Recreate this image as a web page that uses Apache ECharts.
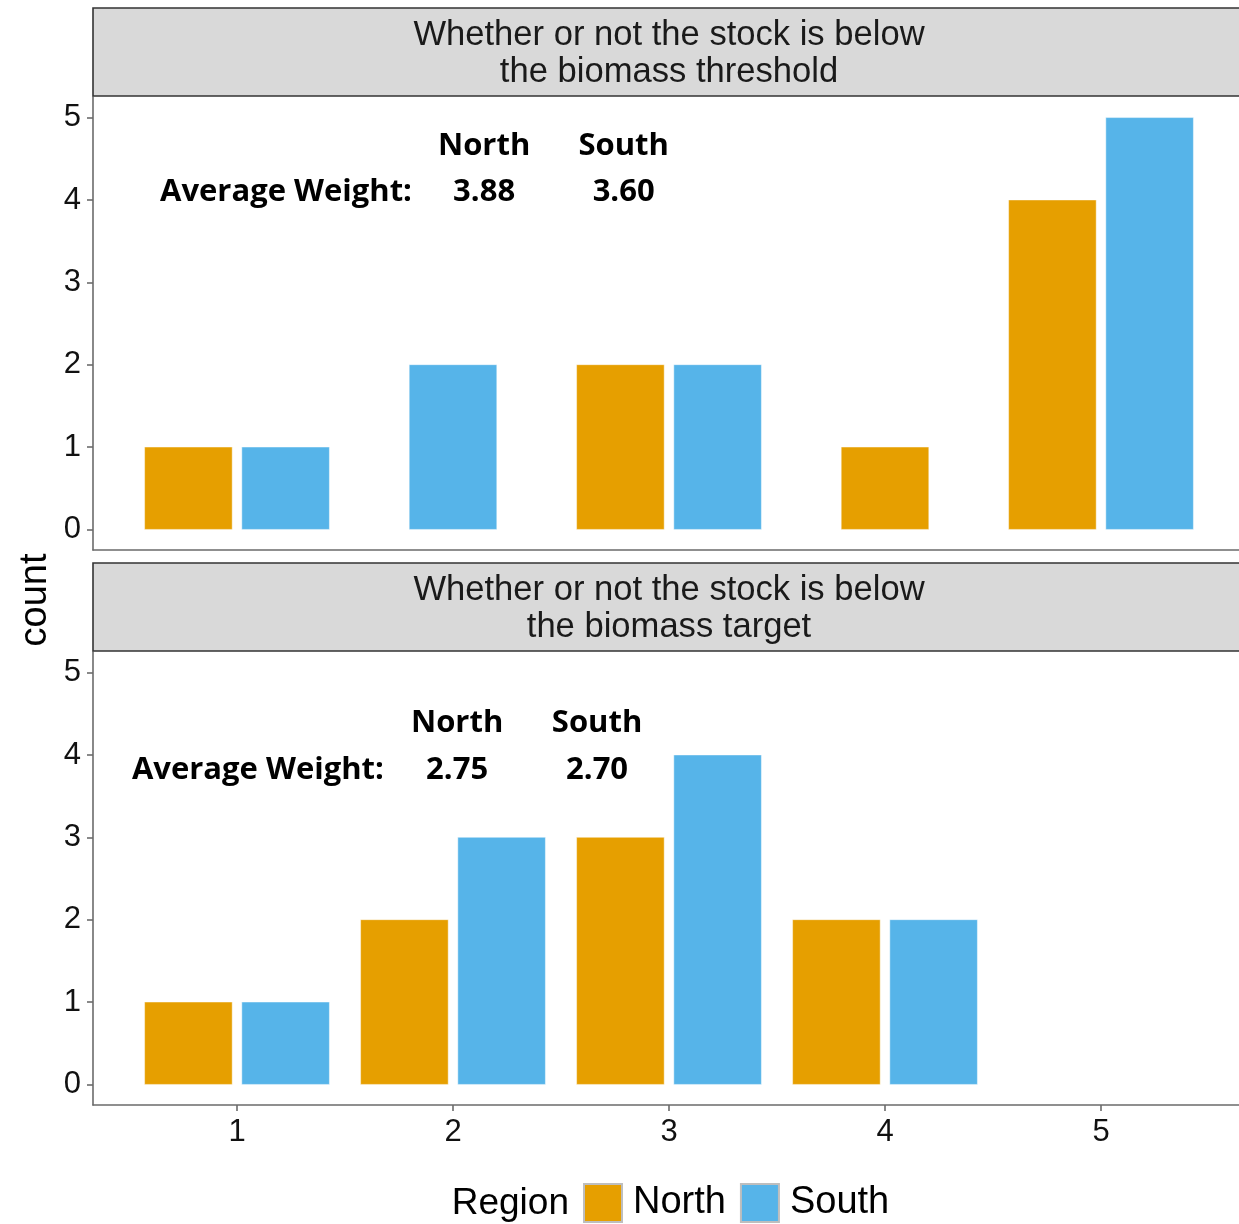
<!DOCTYPE html>
<html>
<head>
<meta charset="utf-8">
<script src="https://cdn.jsdelivr.net/npm/echarts@6/dist/echarts.min.js"></script>
<style>
html,body{margin:0;padding:0;background:#fff;overflow:hidden;}
#chart{width:1246px;height:1224px;}
</style>
</head>
<body>
<div id="chart"></div>
<script>
// ---- data ----
const xValues = [1, 2, 3, 4, 5];
const thresholdNorth = [1, 0, 2, 1, 4];
const thresholdSouth = [1, 2, 2, 0, 5];
const targetNorth = [1, 2, 3, 2, 0];
const targetSouth = [1, 3, 4, 2, 0];
const panelTitles = [
  'Whether or not the stock is below\nthe biomass threshold',
  'Whether or not the stock is below\nthe biomass target'
];
const avgNorth = [3.88, 2.75];
const avgSouth = [3.60, 2.70];
const xTicks = [1, 2, 3, 4, 5];
const yTicks = [0, 1, 2, 3, 4, 5];
const regions = ['North', 'South'];

// ---- layout / style ----
const COLORS = { North: '#E69F00', South: '#56B4E9' };
const AXIS_COL = '#6b6b6b';
const FONT = '"Liberation Sans", Arial, sans-serif';
const panels = [{ top: 97, height: 453, stripTop: 8 }, { top: 652, height: 453, stripTop: 563 }];
const PLOT_LEFT = 93, PLOT_WIDTH = 1152, STRIP_H = 88;
// annotation anchors in data coordinates (per panel)
const annotX = { label: [1.81, 1.68], north: [2.144, 2.019], south: [2.79, 2.667] };
const annotY = { header: [4.65, 4.39], value: [4.09, 3.82] };

const chart = echarts.init(document.getElementById('chart'), null, { renderer: 'canvas' });

function barSeries(name, values, otherValues, panel, side) {
  const data = [];
  values.forEach((v, i) => {
    if (v > 0) data.push([xValues[i], v, otherValues[i] > 0 ? side : 0.5]);
  });
  return {
    type: 'custom', name: name, xAxisIndex: panel, yAxisIndex: panel,
    itemStyle: { color: COLORS[name] },
    encode: { x: 0, y: 1 },
    data: data,
    renderItem: function (params, api) {
      const x = api.value(0), y = api.value(1), pos = api.value(2);
      // pos: 0 = left half of dodge, 1 = right half, 0.5 = lone bar centred
      const x0 = x - 0.45 + pos * 0.45;
      const x1 = x0 + 0.45;
      const pA = api.coord([x0, 0]);
      const pB = api.coord([x1, y]);
      const inset = 4.8;
      return {
        type: 'rect',
        shape: { x: pA[0] + inset, y: pB[1], width: pB[0] - pA[0] - 2 * inset, height: pA[1] - pB[1] },
        style: { fill: COLORS[name], stroke: 'rgba(255,255,255,0.45)', lineWidth: 1 }
      };
    }
  };
}

function annotSeries(panel) {
  const items = [
    { v: [annotX.north[panel], annotY.header[panel]], text: 'North', align: 'center' },
    { v: [annotX.south[panel], annotY.header[panel]], text: 'South', align: 'center' },
    { v: [annotX.label[panel], annotY.value[panel]], text: 'Average Weight:', align: 'right' },
    { v: [annotX.north[panel], annotY.value[panel]], text: avgNorth[panel].toFixed(2), align: 'center' },
    { v: [annotX.south[panel], annotY.value[panel]], text: avgSouth[panel].toFixed(2), align: 'center' }
  ];
  return {
    type: 'custom', xAxisIndex: panel, yAxisIndex: panel, silent: true,
    encode: { x: 0, y: 1 },
    data: items.map(d => d.v),
    renderItem: function (params, api) {
      const it = items[params.dataIndex];
      const p = api.coord([api.value(0), api.value(1)]);
      return {
        type: 'text', x: p[0], y: p[1],
        style: {
          text: it.text, align: it.align, verticalAlign: 'middle',
          font: 'bold 31px "Open Sans", "Noto Sans", sans-serif', fill: '#000'
        }
      };
    }
  };
}

const grids = panels.map(p => ({ left: PLOT_LEFT, width: PLOT_WIDTH, top: p.top, height: p.height, containLabel: false }));

const xAxes = panels.map((p, i) => ({
  type: 'value', gridIndex: i, min: 1 / 3, max: 17 / 3,
  splitLine: { show: false },
  axisLine: { show: true, onZero: false, lineStyle: { color: AXIS_COL, width: 1.6 } },
  axisTick: { show: i === 1, length: 6, customValues: xTicks, lineStyle: { color: AXIS_COL, width: 1.6 } },
  axisLabel: { show: i === 1, customValues: xTicks, margin: 12, fontFamily: FONT, fontSize: 31, color: '#111' }
}));

const yAxes = panels.map((p, i) => ({
  type: 'value', gridIndex: i, min: -0.25, max: 5.25,
  splitLine: { show: false },
  axisLine: { show: true, onZero: false, lineStyle: { color: AXIS_COL, width: 1.6 } },
  axisTick: { show: true, length: 6, customValues: yTicks, lineStyle: { color: AXIS_COL, width: 1.6 } },
  axisLabel: { show: true, customValues: yTicks, margin: 12, fontFamily: FONT, fontSize: 31, color: '#111' }
}));

const graphics = [];
panels.forEach((p, i) => {
  graphics.push({
    type: 'rect', z: 10,
    shape: { x: PLOT_LEFT, y: p.stripTop, width: PLOT_WIDTH, height: STRIP_H },
    style: { fill: '#D9D9D9', stroke: '#333333', lineWidth: 1.6 }
  });
  graphics.push({
    type: 'text', z: 11,
    x: PLOT_LEFT + PLOT_WIDTH / 2, y: p.stripTop + STRIP_H / 2 + 2,
    style: {
      text: panelTitles[i], align: 'center', verticalAlign: 'middle',
      font: '34.6px ' + FONT, lineHeight: 37, fill: '#1a1a1a'
    }
  });
});
graphics.push({
  type: 'text', x: 36, y: 600, rotation: Math.PI / 2,
  style: { text: 'count', align: 'center', verticalAlign: 'middle', font: '38px ' + FONT, fill: '#000' }
});
graphics.push({
  type: 'text', x: 569, y: 1204,
  style: { text: 'Region', align: 'right', verticalAlign: 'middle', font: '37px ' + FONT, fill: '#000' }
});

const option = {
  backgroundColor: '#fff',
  animation: false,
  grid: grids,
  xAxis: xAxes,
  yAxis: yAxes,
  legend: {
    data: regions,
    left: 583, top: 1183, padding: 0,
    icon: 'rect', itemWidth: 38, itemHeight: 38, itemGap: 14,
    itemStyle: { borderColor: '#BEBEBE', borderWidth: 2 },
    textStyle: { fontFamily: FONT, fontSize: 38, color: '#000', padding: [4, 0, 0, 6] },
    selectedMode: false
  },
  graphic: graphics,
  series: [
    barSeries('North', thresholdNorth, thresholdSouth, 0, 0),
    barSeries('South', thresholdSouth, thresholdNorth, 0, 1),
    barSeries('North', targetNorth, targetSouth, 1, 0),
    barSeries('South', targetSouth, targetNorth, 1, 1),
    annotSeries(0),
    annotSeries(1)
  ]
};
chart.setOption(option);
</script>
</body>
</html>
